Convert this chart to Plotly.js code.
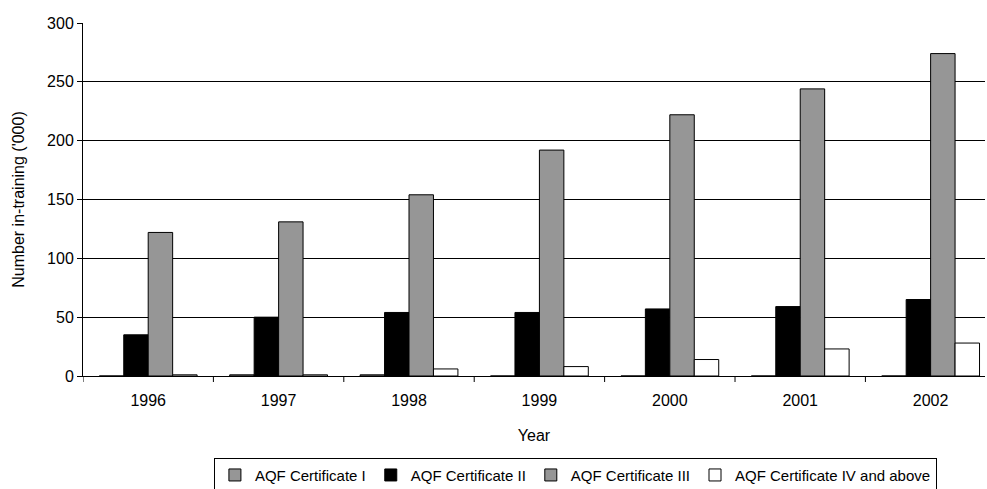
<!DOCTYPE html>
<html>
<head>
<meta charset="utf-8">
<script src="https://cdn.plot.ly/plotly-3.0.1.min.js"></script>
<style>html,body{margin:0;padding:0;background:#fff;}#chart{width:987px;height:489px;}</style>
</head>
<body>
<div id="chart"></div>
<script>
const years = ["1996", "1997", "1998", "1999", "2000", "2001", "2002"];
const seriesNames = ["AQF Certificate I", "AQF Certificate II", "AQF Certificate III", "AQF Certificate IV and above"];
const certI = [0, 1, 1, 0, 0, 0, 0];
const certII = [35, 50, 54, 54, 57, 59, 65];
const certIII = [122, 131, 154, 192, 222, 244, 274];
const certIV = [1, 1, 6, 8, 14, 23, 28];
const yTicks = [0, 50, 100, 150, 200, 250, 300];

const colors = ["#969696", "#000000", "#969696", "#ffffff"];
const values = [certI, certII, certIII, certIV];

const traces = values.map((v, i) => ({
  type: "bar",
  name: seriesNames[i],
  x: years,
  y: v,
  marker: {color: colors[i], line: {color: "#000000", width: 1}},
  hoverinfo: "x+y+name"
}));

const layout = {
  width: 987, height: 489,
  margin: {l: 83, r: 2, t: 23, b: 113},
  paper_bgcolor: "#ffffff", plot_bgcolor: "#ffffff",
  font: {family: "Liberation Sans, Arial, sans-serif", size: 16, color: "#000"},
  barmode: "group",
  bargap: 0.25,
  bargroupgap: 0,
  showlegend: true,
  xaxis: {
    type: "category",
    range: [-0.5, 6.417],
    automargin: false,
    showline: true, linecolor: "#000", linewidth: 1,
    ticks: "", showgrid: false,
    tickfont: {size: 16},
    ticklabelstandoff: 10,
    title: {text: "Year", font: {size: 16}, standoff: 21}
  },
  yaxis: {
    range: [0, 300],
    automargin: false,
    tickvals: yTicks,
    showline: true, linecolor: "#000", linewidth: 1,
    ticks: "outside", ticklen: 5, tickcolor: "#000",
    showgrid: true, gridcolor: "#000", gridwidth: 1,
    zeroline: false,
    tickfont: {size: 16},
    title: {text: "Number in-training ('000)", font: {size: 16}, standoff: 18}
  },
  legend: {
    orientation: "h",
    xref: "container", yref: "container",
    x: 0.583, xanchor: "center",
    y: 0.064, yanchor: "top",
    bordercolor: "#000", borderwidth: 1,
    font: {size: 15},
    itemwidth: 30,
    tracegroupgap: 0,
    traceorder: "normal"
  },
  shapes: []
};

// category boundary tick marks on the x axis
for (let i = 0; i <= years.length; i++) {
  layout.shapes.push({
    type: "line", xref: "x", yref: "paper",
    x0: i - 0.5, x1: i - 0.5, y0: 0, y1: -0.017,
    line: {color: "#000", width: 1}
  });
}

Plotly.newPlot("chart", traces, layout, {displayModeBar: false, staticPlot: true});
</script>
</body>
</html>
